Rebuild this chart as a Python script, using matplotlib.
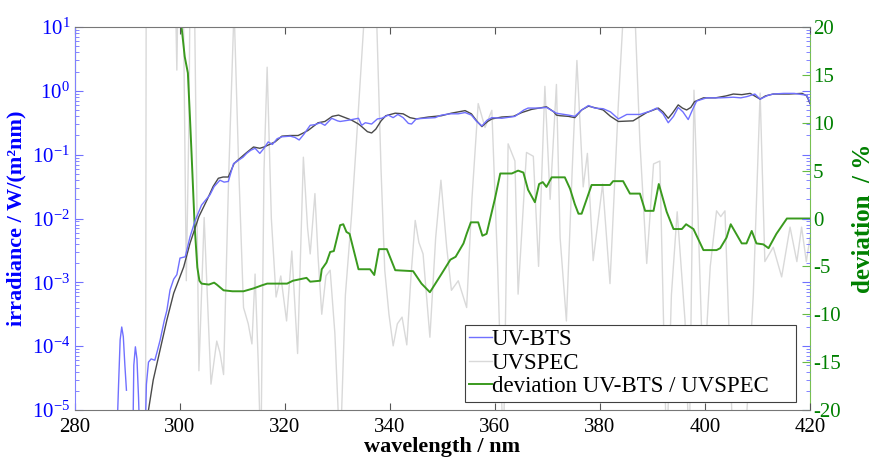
import numpy as np
import matplotlib
matplotlib.use('Agg')
import matplotlib.pyplot as plt

plt.rcParams['font.family'] = ['Liberation Serif', 'DejaVu Serif']
plt.rcParams['mathtext.fontset'] = 'stix'
plt.rcParams['axes.unicode_minus'] = False

nan = np.nan

# UV-BTS (Bestrahlungsstärke, log10-Werte)
bts_wl = [287.9, 288.3, 288.6, 288.9, 289.2, 289.5, 289.8, nan,
          291.0, 291.2, 291.5, 291.8, 292.1, 292.4, nan,
          293.3, 293.6, 294.0, 294.5, 295.2, 295.6, 296.2, 297.0, 297.5, 298.1,
          298.8, 299.4, 300.0, 301.0, 301.9, 302.9, 304.1, 305.2, 305.7, 306.5,
          307.6, 308.4, 309.2, 310.2, 311.1, 312.0, 312.7, 313.5, 314.3, 315.2,
          316.0, 316.8, 317.6, 318.5, 319.4, 321.0, 321.9, 322.7, 323.6, 324.8,
          325.7, 326.7, 327.6, 328.9, 330.0, 330.5, 332.1, 334.0, 334.6, 335.3,
          336.5, 337.6, 338.4, 339.7, 340.6, 341.5, 342.5, 343.5, 344.1, 345.0,
          346.5, 348.6, 349.8, 351.5, 353.0, 354.3, 355.5, 356.5, 357.5, 358.5,
          359.4, 361.3, 363.8, 365.5, 366.3, 368.5, 369.8, 371.7, 372.4, 374.0,
          375.2, 376.5, 377.8, 379.0, 380.6, 382.0, 383.5, 385.1, 387.6, 389.5,
          390.8, 392.0, 393.0, 394.0, 394.9, 395.8, 396.8, 397.6, 398.4, 400.3,
          402.9, 405.4, 406.8, 408.0, 409.5, 410.5, 412.0, 413.0, 415.0, 417.0,
          419.4, 420.0]
bts_log = [-5.6, -4.6, -3.9, -3.70, -3.85, -4.3, -4.69, nan,
           -5.6, -4.3, -4.01, -4.2, -4.8, -5.6, nan,
           -5.6, -4.6, -4.25, -4.2, -4.22, -4.1, -3.91, -3.6, -3.44, -3.12,
           -2.95, -2.88, -2.62, -2.60, -2.29, -2.03, -1.79, -1.68, -1.63, -1.50,
           -1.40, -1.43, -1.42, -1.14, -1.09, -1.04, -0.98, -0.93, -0.90, -0.98,
           -0.90, -0.80, -0.84, -0.75, -0.72, -0.71, -0.73, -0.77, -0.68, -0.54,
           -0.53, -0.50, -0.54, -0.43, -0.47, -0.48, -0.46, -0.43, -0.54, -0.50,
           -0.52, -0.44, -0.43, -0.38, -0.42, -0.37, -0.42, -0.51, -0.52, -0.44,
           -0.43, -0.42, -0.38, -0.36, -0.36, -0.34, -0.38, -0.48, -0.55, -0.46,
           -0.42, -0.43, -0.40, -0.30, -0.27, -0.27, -0.26, -0.35, -0.36, -0.38,
           -0.40, -0.30, -0.23, -0.27, -0.28, -0.33, -0.44, -0.37, -0.37, -0.32,
           -0.27, -0.36, -0.50, -0.40, -0.26, -0.33, -0.45, -0.30, -0.16, -0.11,
           -0.11, -0.10, -0.11, -0.09, -0.05, -0.13, -0.07, -0.05, -0.04, -0.04,
           -0.07, -0.18]

# UVSPEC Modell
spec_wl = [293.7, 294.0, 294.9, 296.2, 297.5, 298.8, 300.7, 301.9, 303.6, 305.2,
           306.3, 307.3, 308.2, 309.2, 310.3, 311.1, 312.5, 314.0, 315.2, 316.0,
           318.1, 319.4, 321.0, 322.5, 323.5, 324.4, 326.3, 327.6, 329.0, 330.2,
           332.1, 332.7, 334.0, 334.6, 335.7, 336.5, 337.3, 338.3, 339.2, 341.0,
           342.5, 343.8, 345.0, 347.3, 349.8, 351.7, 353.0, 354.3, 355.5, 356.5,
           357.5, 358.6, 359.4, 361.3, 363.5, 365.1, 367.0, 369.8, 371.2, 371.7,
           372.4, 374.0, 375.2, 376.5, 377.8, 379.3, 380.6, 382.0, 383.5, 386.3,
           388.9, 390.2, 391.1, 392.0, 393.0, 393.8, 394.9, 395.7, 396.5, 397.3,
           398.0, 399.7, 402.0, 404.0, 405.4, 407.0, 408.6, 410.5, 411.5, 413.0,
           416.0, 418.5, 419.4, 420.0]
spec_log = [-5.6, -5.0, -4.53, -4.06, -3.59, -3.17, -2.76, -2.39, -1.97, -1.70,
            -1.50, -1.37, -1.35, -1.35, -1.14, -1.08, -0.98, -0.88, -0.90, -0.88,
            -0.80, -0.71, -0.70, -0.70, -0.66, -0.62, -0.50, -0.48, -0.40, -0.38,
            -0.44, -0.46, -0.52, -0.56, -0.64, -0.66, -0.60, -0.47, -0.39, -0.35,
            -0.36, -0.42, -0.44, -0.41, -0.39, -0.35, -0.33, -0.31, -0.36, -0.47,
            -0.56, -0.48, -0.44, -0.41, -0.40, -0.34, -0.29, -0.25, -0.33, -0.38,
            -0.39, -0.40, -0.42, -0.30, -0.24, -0.27, -0.30, -0.40, -0.48, -0.47,
            -0.34, -0.30, -0.27, -0.33, -0.43, -0.35, -0.22, -0.27, -0.30, -0.26,
            -0.17, -0.11, -0.11, -0.08, -0.05, -0.06, -0.04, -0.13, -0.08, -0.05,
            -0.05, -0.04, -0.08, -0.20]

# Abweichung UV-BTS / UVSPEC (geglättet) in %
dev_wl = [300.2, 300.9, 301.5, 301.9, 302.2, 302.8, 303.3, 303.7, 304.1, 305.5,
          306.5, 307.0, 308.3, 310.0, 312.1, 314.0, 315.5, 316.6, 320.4, 321.5,
          324.1, 324.8, 326.7, 327.0, 327.9, 328.6, 329.3, 330.5, 331.1, 331.7,
          332.3, 334.0, 336.2, 337.0, 337.5, 337.9, 339.4, 341.0, 344.4, 346.0,
          347.6, 349.8, 351.5, 352.5, 354.0, 354.6, 355.4, 356.8, 357.6, 358.4,
          360.0, 361.0, 363.2, 364.4, 365.4, 366.3, 366.9, 367.6, 368.4, 369.1,
          369.8, 370.8, 373.3, 374.3, 375.2, 375.9, 376.5, 378.4, 381.9, 382.5,
          384.4, 385.7, 387.6, 388.6, 390.2, 391.2, 392.7, 394.0, 395.6, 396.4,
          397.8, 399.7, 402.2, 402.9, 404.1, 404.9, 407.0, 407.9, 408.9, 409.8,
          411.1, 412.1, 413.6, 415.6, 420.0]
dev_val = [20.5, 16.9, 15.2, 10.5, 6.8, -0.9, -5.1, -6.5, -6.8, -6.9,
           -6.7, -6.9, -7.5, -7.6, -7.6, -7.3, -7.0, -6.8, -6.8, -6.5,
           -6.2, -6.6, -6.5, -5.3, -4.6, -3.5, -3.4, -0.7, -0.6, -1.4,
           -1.6, -5.3, -5.3, -5.9, -4.4, -3.2, -3.2, -5.4, -5.5, -6.8,
           -7.7, -5.8, -4.3, -4.0, -2.6, -1.6, -0.4, -0.4, -1.8, -1.6,
           2.1, 4.7, 4.7, 5.0, 4.8, 3.0, 2.4, 1.7, 3.6, 3.8,
           3.3, 4.3, 4.3, 3.1, 1.5, 0.5, 0.5, 3.5, 3.5, 3.9,
           3.9, 2.6, 2.6, 0.8, 0.8, 3.6, 0.7, -1.1, -1.1, -0.6,
           -1.1, -3.3, -3.3, -3.1, -2.0, -0.6, -2.6, -2.6, -1.3, -2.6,
           -2.7, -3.1, -1.6, 0.0, 0.0]

# hellgraue Kurve (ungeglättet, rechte Achse)
raw_wl = [293.4, 293.6, 298.9, 299.4, 299.8, 300.5, 301.2, 301.7, 302.0, 302.6,
          303.6, 304.6, 305.2, 305.9, 307.0, 307.6, 308.3, 309.3, 310.3, 311.2,
          312.1, 313.0, 313.7, 314.3, 314.9, 315.4, 316.0, 316.6, 317.4, 318.3,
          319.2, 320.3, 321.3, 322.4, 323.5, 324.3, 324.8, 325.7, 326.3, 327.0,
          327.8, 328.6, 329.5, 330.5, 331.5, 332.7, 333.6, 335.2, 336.2, 337.5,
          338.3, 339.0, 339.8, 340.6, 341.4, 342.3, 343.2, 344.0, 344.8, 345.5,
          346.3, 347.6, 348.7, 349.7, 350.8, 351.7, 353.0, 354.6, 355.6, 356.8,
          358.1, 359.4, 360.5, 361.6, 362.5, 363.8, 364.4, 366.0, 367.3, 368.3,
          369.5, 370.5, 371.7, 372.4, 373.6, 374.7, 375.6, 376.8, 377.6, 378.7,
          380.5, 381.9, 383.5, 384.8, 386.4, 387.6, 388.9, 390.2, 391.4, 392.7,
          393.6, 394.7, 396.2, 397.0, 397.9, 398.8, 399.7, 401.0, 402.2, 403.0,
          403.8, 405.4, 407.5, 409.2, 410.5, 411.4, 413.0, 414.6, 416.2, 417.5,
          418.4, 419.3, 420.0]
raw_val = [-40, 40, 30, 15.5, 30, 30, -6.5, 10, 30, 30,
           -15.9, 0.1, -8, -17.3, -12.8, -14, -16.3, 5, 22, 5,
           -9.3, -11, -13.1, -5.8, -15, -25, 5, 15.8, 0, -8.2,
           -6, -10.7, -3.4, -14.1, 6.4, -1, -3.7, 2.6, -4, -10,
           -6, -5.4, -12, -25, -8, 0.5, 8, 22, 24, 20,
           5, -5.4, -10, -13.3, -11, -10.3, -13.2, -6, -0.2, -2.5,
           -3.7, -12.4, -2, 4.0, -3, -7.5, -6.5, -9.3, 2, 12.0,
           9.5, 11.3, -5, -25, 7.8, 6, -7.9, 6.9, 6.5, -5,
           13.8, 2, 14, -2.0, -10.7, 5, 16.5, 3.3, 6.8, -4.4,
           3.6, -6.8, 12, 25, 25, 8, -4.7, 5.7, 6, -25,
           -8, 0.7, -10.7, -25, 13.4, -2, -17.7, -5, 0.8, 0.2,
           0.8, -25, -25, -8, 13.1, -4.5, -3.0, -6.1, -0.9, -4.5,
           -0.9, -4.5, -2]

xticks = [280, 300, 320, 340, 360, 380, 400, 420]
dev_ticks = [-20, -15, -10, -5, 0, 5, 10, 15, 20]

blue = '#0000ff'
green = '#008000'

fig = plt.figure(figsize=(8.75, 4.66), dpi=100)
fig.subplots_adjust(left=75/875, right=810/875, top=1-27/466, bottom=1-410/466)
ax1 = fig.add_subplot(111)
ax2 = ax1.twinx()

# linke Achse: Bestrahlungsstärke
ax1.set_yscale('log')
l_gray, = ax2.plot(raw_wl, raw_val, '-', color='#d9d9d9', lw=1.0, label='UVSPEC')
l_spec, = ax1.plot(spec_wl, 10.0**np.array(spec_log), '-', color='#4a4a4a', lw=1.0)
l_bts, = ax1.plot(bts_wl, 10.0**np.array(bts_log), '-', color='#7070ff', lw=1.0, label='UV-BTS')
l_dev, = ax2.plot(dev_wl, dev_val, '-', color='#3a9a1e', lw=1.4,
                  label='deviation UV-BTS / UVSPEC')

# Reihenfolge: graue Kurve unter allen anderen
ax1.set_zorder(ax2.get_zorder() + 1)
ax1.patch.set_visible(False)
ax2.set_zorder(0)

ax1.set_xlim(280, 420)
ax1.set_ylim(1e-5, 1e1)
ax2.set_ylim(-20, 20)
ax1.set_xticks(xticks)
ax2.set_yticks(dev_ticks)

ax1.tick_params(axis='x', which='both', direction='in', top=True, length=5,
                color='#555555', labelsize=15, pad=6)
ax1.tick_params(axis='y', which='major', direction='in', right=True, length=6,
                color='#7070ff', labelcolor=blue, labelsize=15)
ax1.tick_params(axis='y', which='minor', direction='in', right=True, length=3,
                color='#7070ff')
ax2.tick_params(axis='y', direction='in', length=6, color='#66bb44',
                labelcolor=green, labelsize=15, pad=2)

for s in ['top', 'bottom']:
    ax1.spines[s].set_color('#777777')
ax1.spines['left'].set_color('#8080ff')
ax1.spines['right'].set_visible(False)
ax2.spines['right'].set_color('#77c050')
ax2.spines['left'].set_color('#77c050')
ax2.spines['left'].set_bounds(0, 20)
ax2.spines['top'].set_visible(False)
ax2.spines['bottom'].set_visible(False)

ax1.set_xlabel('wavelength / nm', fontsize=16, fontweight='bold', labelpad=0)
ax1.set_ylabel('irradiance / W/(m²nm)', fontsize=16, fontweight='bold', color=blue,
               labelpad=4)
ax2.set_ylabel('deviation  / %', fontsize=18, fontweight='bold', color=green,
               labelpad=8)

leg = ax1.legend([l_bts, l_gray, l_dev],
                 ['UV-BTS', 'UVSPEC', 'deviation UV-BTS / UVSPEC    '],
                 loc='lower right', bbox_to_anchor=(0.997, -0.008), fontsize=16.5,
                 handlelength=1.0, handletextpad=0.0, labelspacing=0.1,
                 borderpad=0.2, fancybox=False, framealpha=1, edgecolor='#404040')
leg.get_frame().set_linewidth(0.8)

fig.savefig('out.png', dpi=100)
